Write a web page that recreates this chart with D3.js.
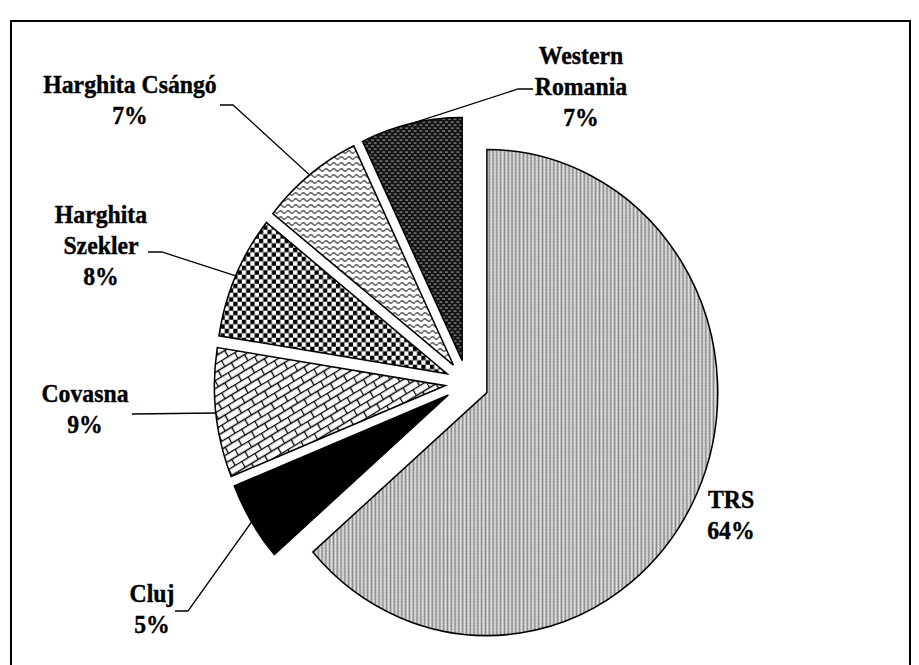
<!DOCTYPE html>
<html>
<head>
<meta charset="utf-8">
<script src="https://cdn.jsdelivr.net/npm/d3@7"></script>
<style>
  body { margin: 0; background: #fff; }
  svg text { font-family: "Liberation Serif", "Times New Roman", serif; font-weight: bold; }
</style>
</head>
<body>
<div id="chart"></div>
<script>
// data, clockwise from 12 o'clock
var regions = ["TRS", "Cluj", "Covasna", "Harghita Szekler", "Harghita Csángó", "Western Romania"];
var shares = [63.6, 5.3, 8.6, 8.2, 7.2, 7.1];
var labelLines = [["TRS"], ["Cluj"], ["Covasna"], ["Harghita", "Szekler"], ["Harghita Csángó"], ["Western", "Romania"]];
var fills = ["url(#pTrs)", "#000", "url(#pBrick)", "url(#pCheck)", "url(#pWave)", "url(#pDark)"];

// label layout (page pixels): centre x, first baseline, leader elbow and end
var labelX = [731, 152, 85, 101, 130, 581];
var labelY = [508, 602, 402, 223, 93, 64];
var leaderElbow = [null, [188, 611], [132, 414], [162, 252], [233, 105], [518, 89]];
var leaderEnd = [null, [175, 611], [132, 414], [148, 252], [220, 105], [533, 89]];

var W = 919, H = 665;
var k = 0.95;            // the picture is slightly narrower than tall
var cx = 467 / k, cy = 383, r = 243, explode = 23, lineH = 31;

var svg = d3.select("#chart").append("svg")
    .attr("width", W).attr("height", H);

var defs = svg.append("defs");

// TRS: light grey fine vertical texture
var p = defs.append("pattern").attr("id", "pTrs").attr("patternUnits", "userSpaceOnUse")
    .attr("width", 4).attr("height", 3);
p.append("rect").attr("width", 4).attr("height", 3).attr("fill", "#bdbdbd");
p.append("rect").attr("x", 0).attr("width", 1).attr("height", 2).attr("fill", "#f4f4f4");
p.append("rect").attr("x", 2).attr("width", 1).attr("height", 3).attr("fill", "#888");

// Covasna: diagonal brick
p = defs.append("pattern").attr("id", "pBrick").attr("patternUnits", "userSpaceOnUse")
    .attr("width", 16).attr("height", 14).attr("patternTransform", "rotate(-30)");
p.append("rect").attr("width", 16).attr("height", 14).attr("fill", "#fff");
p.append("path").attr("d", "M0,0.5H16M0,7.5H16M0.5,0V7M8.5,7V14")
    .attr("stroke", "#000").attr("stroke-width", 1.4).attr("fill", "none");

// Harghita Szekler: checkerboard
p = defs.append("pattern").attr("id", "pCheck").attr("patternUnits", "userSpaceOnUse")
    .attr("width", 9).attr("height", 9);
p.append("rect").attr("width", 9).attr("height", 9).attr("fill", "#fff");
p.append("rect").attr("width", 4.5).attr("height", 4.5).attr("fill", "#000");
p.append("rect").attr("x", 4.5).attr("y", 4.5).attr("width", 4.5).attr("height", 4.5).attr("fill", "#000");

// Harghita Csángó: wavy lines
p = defs.append("pattern").attr("id", "pWave").attr("patternUnits", "userSpaceOnUse")
    .attr("width", 8).attr("height", 6);
p.append("rect").attr("width", 8).attr("height", 6).attr("fill", "#fff");
p.append("path").attr("d", "M0,3 Q2,0.5 4,3 T8,3")
    .attr("stroke", "#555").attr("stroke-width", 1.3).attr("fill", "none");

// Western Romania: dark with small light dashes
p = defs.append("pattern").attr("id", "pDark").attr("patternUnits", "userSpaceOnUse")
    .attr("width", 6).attr("height", 6);
p.append("rect").attr("width", 6).attr("height", 6).attr("fill", "#151515");
p.append("rect").attr("x", 0).attr("y", 1).attr("width", 3).attr("height", 1).attr("fill", "#aaa");
p.append("rect").attr("x", 3).attr("y", 4).attr("width", 3).attr("height", 1).attr("fill", "#aaa");

// frame
svg.append("rect")
    .attr("x", 11).attr("y", 21).attr("width", 899).attr("height", 660)
    .attr("fill", "none").attr("stroke", "#000").attr("stroke-width", 2);

var g = svg.append("g").attr("transform", "scale(" + k + ",1)");

var pie = d3.pie().sort(null).value(function(d) { return d; });
var arcs = pie(shares);
var arc = d3.arc().innerRadius(0).outerRadius(r);

function offset(a, dist) {
    var mid = (a.startAngle + a.endAngle) / 2;
    return [Math.sin(mid) * dist, -Math.cos(mid) * dist];
}

g.selectAll("path.slice")
    .data(arcs)
    .enter().append("path")
    .attr("class", "slice")
    .attr("transform", function(a) {
        var o = offset(a, explode);
        return "translate(" + (cx + o[0]) + "," + (cy + o[1]) + ")";
    })
    .attr("d", arc)
    .attr("fill", function(a, i) { return fills[i]; })
    .attr("stroke", "#000")
    .attr("stroke-width", 1.6)
    .attr("stroke-linejoin", "miter");

// leader lines
arcs.forEach(function(a, i) {
    if (!leaderEnd[i]) return;
    var o = offset(a, explode + r);
    var pts = [[cx + o[0], cy + o[1]],
               [leaderElbow[i][0] / k, leaderElbow[i][1]],
               [leaderEnd[i][0] / k, leaderEnd[i][1]]];
    g.append("path")
        .attr("d", d3.line()(pts))
        .attr("fill", "none")
        .attr("stroke", "#000")
        .attr("stroke-width", 1.3);
});

// labels
arcs.forEach(function(a, i) {
    var lines = labelLines[i].concat([Math.round(shares[i]) + "%"]);
    var t = g.append("text")
        .attr("text-anchor", "middle")
        .attr("font-size", 25)
        .attr("fill", "#000")
        .attr("stroke", "#000")
        .attr("stroke-width", 0.4);
    lines.forEach(function(s, j) {
        t.append("tspan")
            .attr("x", labelX[i] / k)
            .attr("y", labelY[i] + j * lineH)
            .text(s);
    });
});
</script>
</body>
</html>
